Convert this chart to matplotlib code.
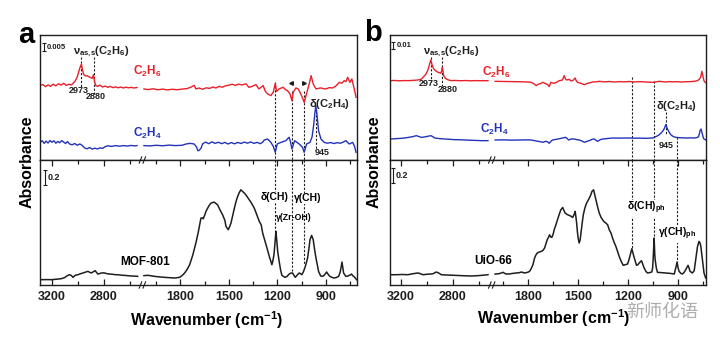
import numpy as np
import matplotlib
matplotlib.use('Agg')
import matplotlib.pyplot as plt
import matplotlib.transforms as mtransforms

plt.rcParams['font.family'] = ['Liberation Sans', 'DejaVu Sans']
plt.rcParams['font.weight'] = 'bold'
plt.rcParams['mathtext.fontset'] = 'custom'
plt.rcParams['mathtext.rm'] = 'Liberation Sans:bold'
plt.rcParams['mathtext.it'] = 'Liberation Sans:bold'
plt.rcParams['mathtext.bf'] = 'Liberation Sans:bold'
plt.rcParams['mathtext.default'] = 'rm'

# ---------------- data (wavenumber cm-1, difference absorbance in 1e-3) ----------------
# panel a : MOF-801
a_c2h6_wn = [3292, 3270, 3250, 3230, 3210, 3190, 3170, 3150, 3130, 3110, 3090, 3070, 3050, 3038,
             3020, 3005, 2995, 2985, 2973, 2965, 2955, 2940, 2928, 2915, 2900, 2890, 2880, 2872,
             2862, 2850, 2830, 2810, 2790, 2770, 2750, 2730, 2710, 2690, 2670, 2650, 2630, 2610,
             2590, 2570, 2545,
             2026, 2000, 1970, 1940, 1910, 1880, 1850, 1820, 1790, 1760, 1735, 1715, 1704, 1684,
             1663, 1640, 1620, 1600, 1580, 1560, 1540, 1520, 1497, 1480, 1460, 1440, 1420, 1394,
             1376, 1355, 1333, 1314, 1300, 1288, 1275, 1260, 1240, 1225, 1213, 1205, 1189, 1175,
             1164, 1150, 1137, 1122, 1110, 1102, 1085, 1072, 1060, 1045, 1034, 1017, 1003, 991,
             978, 961, 945, 930, 915, 899, 880, 858, 840, 817, 800, 786, 775, 765, 751, 739, 724, 713]
a_c2h6 = [46.5, 47.2, 45.8, 46.9, 46.0, 47.4, 46.3, 47.6, 46.8, 47.9, 46.6, 47.3, 46.9, 47.9,
          49.5, 52.0, 54.8, 57.5, 60.0, 56.3, 53.3, 52.5, 52.7, 52.0, 51.4, 51.0, 53.3, 49.0,
          46.5, 46.0, 46.8, 45.6, 46.2, 45.4, 46.0, 45.2, 45.7, 45.1, 45.6, 45.0, 45.5, 45.1,
          45.4, 45.0, 45.3,
          44.4, 44.0, 44.5, 43.9, 44.3, 43.8, 44.2, 43.9, 44.3, 44.6, 45.5, 46.6, 44.4, 45.0,
          44.2, 45.1, 44.7, 45.6, 45.0, 46.0, 45.5, 46.4, 46.8, 47.3, 46.6, 47.4, 46.9, 47.6,
          45.4, 46.0, 47.1, 44.4, 45.5, 46.5, 43.0, 41.3, 40.2, 42.5, 47.9, 42.9, 44.4, 45.0,
          45.4, 44.0, 43.3, 41.3, 37.1, 42.3, 45.0, 44.5, 42.3, 39.0, 36.0, 42.3, 47.5, 52.7,
          47.5, 44.4, 44.8, 45.0, 44.6, 44.4, 45.2, 45.0, 46.0, 48.5, 48.0, 49.6, 49.0, 51.7,
          48.5, 50.6, 44.4, 39.2]

a_c2h4_wn = [3292, 3275, 3260, 3245, 3230, 3215, 3200, 3185, 3170, 3155, 3140, 3125, 3110, 3095,
             3080, 3064, 3045, 3025, 3005, 2985, 2974, 2960, 2948, 2930, 2910, 2890, 2870, 2850,
             2830, 2810, 2794, 2770, 2740, 2710, 2680, 2650, 2620, 2590, 2560, 2545,
             2026, 1990, 1950, 1910, 1870, 1830, 1790, 1765, 1740, 1715, 1700, 1692, 1684, 1672,
             1663, 1645, 1625, 1605, 1585, 1565, 1545, 1525, 1505, 1485, 1465, 1445, 1425, 1405,
             1385, 1365, 1345, 1325, 1305, 1290, 1281, 1260, 1240, 1225, 1213, 1201, 1178, 1147,
             1127, 1118, 1110, 1093, 1065, 1044, 1034, 1019, 998, 985, 975, 967, 962, 955, 945,
             930, 910, 890, 870, 850, 830, 810, 796, 776, 755, 734, 722, 713]
a_c2h4 = [11.0, 12.0, 10.4, 11.8, 10.6, 12.2, 11.1, 12.0, 10.5, 11.6, 10.8, 12.1, 11.2, 10.3,
          11.5, 10.0, 9.5, 10.3, 9.2, 10.0, 9.5, 8.5, 7.5, 7.0, 7.8, 6.8, 7.4, 6.9,
          7.6, 7.2, 8.2, 8.9, 8.5, 9.0, 8.6, 9.0, 8.7, 9.1, 8.8, 9.0,
          9.0, 8.8, 9.2, 8.9, 9.3, 9.0, 9.2, 10.0, 10.4, 10.0, 8.0, 5.8, 6.0, 7.5,
          10.0, 11.2, 10.2, 11.3, 10.4, 11.1, 10.2, 11.0, 10.0, 10.9, 10.1, 11.0, 10.3, 11.2,
          10.5, 11.3, 10.4, 11.0, 10.2, 11.2, 12.5, 13.1, 11.0, 8.5, 4.8, 10.0, 11.0, 12.1,
          14.2, 11.0, 6.9, 12.1, 10.0, 7.9, 4.8, 10.0, 11.0, 14.5, 22.0, 30.0, 34.0, 28.8, 18.3,
          13.1, 11.0, 10.5, 10.9, 10.3, 10.8, 10.5, 11.0, 12.1, 10.0, 11.0, 8.5, 4.8]

mof_wn = [3292, 3282, 3240, 3205, 3160, 3128, 3100, 3090, 3075, 3064, 3050, 3038, 3020, 3000,
          2980, 2961, 2940, 2923, 2910, 2897, 2880, 2867, 2856, 2846, 2830, 2810, 2794, 2775,
          2756, 2730, 2710, 2692, 2660, 2640, 2615, 2590, 2560, 2540,
          2026, 2001, 1980, 1960, 1930, 1898, 1870, 1836, 1805, 1790, 1774, 1758, 1743, 1723,
          1702, 1690, 1681, 1673, 1665, 1659, 1650, 1642, 1625, 1611, 1591, 1570, 1555, 1539,
          1525, 1518, 1504, 1495, 1487, 1476, 1466, 1456, 1446, 1436, 1426, 1415, 1405, 1395,
          1385, 1374, 1360, 1343, 1328, 1312, 1300, 1291, 1280, 1270, 1260, 1250, 1241, 1234,
          1227, 1221, 1214, 1209, 1204, 1198, 1190, 1180, 1172, 1160, 1151, 1140, 1127, 1115,
          1106, 1098, 1089, 1078, 1065, 1055, 1048, 1038, 1027, 1020, 1013, 1005, 998, 988,
          978, 970, 961, 952, 945, 932, 920, 908, 895, 885, 875, 860, 848, 835, 821, 811, 805,
          800, 794, 790, 776, 765, 755, 748, 741, 734, 727, 718, 710]
mof_abs = [0.071, 0.071, 0.072, 0.071, 0.078, 0.084, 0.100, 0.115, 0.130, 0.137, 0.125, 0.102,
           0.130, 0.137, 0.150, 0.160, 0.172, 0.182, 0.170, 0.160, 0.178, 0.191, 0.165, 0.146,
           0.155, 0.162, 0.160, 0.150, 0.146, 0.142, 0.137, 0.137, 0.130, 0.128, 0.124, 0.120,
           0.118, 0.115,
           0.125, 0.129, 0.122, 0.115, 0.108, 0.102, 0.098, 0.093, 0.102, 0.125, 0.160, 0.210,
           0.270, 0.403, 0.581, 0.700, 0.802, 0.891, 0.895, 0.882, 0.930, 0.980, 1.050, 1.091,
           1.104, 1.068, 1.000, 0.935, 0.860, 0.780, 0.736, 0.780, 0.825, 0.930, 1.024, 1.110,
           1.179, 1.230, 1.268, 1.246, 1.225, 1.201, 1.170, 1.135, 1.090, 1.024, 0.940, 0.847,
           0.800, 0.692, 0.610, 0.536, 0.460, 0.381, 0.320, 0.270, 0.330, 0.403, 0.580, 0.714,
           0.600, 0.448, 0.330, 0.200, 0.129, 0.110, 0.102, 0.115, 0.146, 0.160, 0.160, 0.130,
           0.102, 0.130, 0.160, 0.150, 0.137, 0.180, 0.248, 0.300, 0.359, 0.480, 0.603, 0.661,
           0.603, 0.480, 0.359, 0.260, 0.182, 0.120, 0.115, 0.135, 0.173, 0.140, 0.115, 0.100,
           0.093, 0.100, 0.115, 0.173, 0.240, 0.306, 0.220, 0.160, 0.115, 0.118, 0.129, 0.135,
           0.146, 0.125, 0.115, 0.095, 0.071]

# panel b : UiO-66
b_c2h6_wn = [3285, 3250, 3210, 3170, 3146, 3110, 3069, 3045, 3031, 3015, 3005, 2995, 2987, 2978,
             2971, 2965, 2959, 2950, 2940, 2927, 2915, 2904, 2894, 2886, 2882, 2876, 2871, 2860,
             2851, 2830, 2813, 2780, 2740, 2700, 2660, 2620, 2580, 2530,
             1997, 1950, 1900, 1850, 1800, 1780, 1765, 1750, 1740, 1730, 1710, 1690, 1680, 1672,
             1662, 1652, 1642, 1625, 1612, 1592, 1582, 1575, 1567, 1552, 1540, 1531, 1516, 1508,
             1501, 1481, 1461, 1441, 1425, 1411, 1390, 1371, 1340, 1310, 1280, 1250, 1220, 1190,
             1160, 1130, 1100, 1075, 1050, 1030, 1011, 990, 971, 950, 930, 900, 880, 851, 820,
             800, 780, 768, 760, 754, 746, 740, 734, 730]
b_c2h6 = [119.0, 119.3, 118.8, 119.2, 119.0, 119.4, 120.0, 121.0, 124.0, 127.0, 130.0, 134.0,
          139.0, 145.0, 150.0, 146.0, 141.5, 137.5, 135.0, 133.0, 131.5, 131.0, 130.0, 134.0,
          139.0, 132.0, 126.5, 123.0, 121.5, 119.8, 119.0, 119.3, 118.9, 119.2, 118.8, 119.1,
          118.9, 119.0,
          118.0, 117.8, 117.6, 117.4, 117.0, 116.5, 114.5, 111.5, 113.5, 114.0, 116.5, 114.0,
          113.0, 110.0, 116.5, 115.5, 115.0, 117.0, 119.0, 120.0, 126.5, 122.0, 120.0, 121.0,
          118.5, 119.0, 123.0, 118.0, 116.5, 115.0, 113.0, 115.0, 116.0, 117.0, 117.3, 118.0,
          117.2, 117.8, 117.0, 117.6, 117.2, 117.8, 117.0, 117.5, 117.2, 116.8, 116.5, 117.2,
          118.0, 117.5, 117.0, 117.6, 117.2, 117.5, 117.0, 117.4, 117.6, 118.0, 119.0, 121.5,
          125.0, 133.0, 124.0, 118.0, 116.5, 116.0]

b_c2h4_wn = [3285, 3240, 3200, 3172, 3140, 3110, 3082, 3060, 3044, 3020, 2995, 2971, 2955, 2940,
             2900, 2860, 2820, 2786, 2740, 2700, 2660, 2620, 2580, 2530,
             1997, 1950, 1900, 1850, 1800, 1780, 1760, 1740, 1725, 1710, 1700, 1690, 1680, 1672,
             1662, 1652, 1630, 1610, 1592, 1572, 1555, 1540, 1522, 1506, 1492, 1475, 1461, 1445,
             1431, 1415, 1401, 1390, 1381, 1365, 1351, 1330, 1291, 1250, 1220, 1191, 1160, 1130,
             1091, 1070, 1050, 1031, 1015, 1001, 990, 981, 975, 971, 966, 961, 951, 941, 925,
             911, 880, 851, 820, 801, 785, 774, 768, 765, 759, 754, 750, 745, 741, 730]
b_c2h4 = [31.5, 32.0, 32.5, 33.0, 34.0, 35.0, 36.5, 35.0, 34.0, 34.5, 35.5, 36.5, 35.0, 33.0,
          32.0, 31.5, 31.0, 30.5, 30.3, 30.0, 29.6, 29.3, 29.0, 29.0,
          30.0, 30.2, 29.8, 30.0, 30.2, 30.0, 29.0, 28.0, 27.5, 26.5, 27.5, 28.0, 27.0, 25.0,
          28.0, 30.0, 31.0, 32.0, 33.0, 34.0, 30.0, 31.5, 31.5, 30.5, 30.0, 28.5, 26.5, 28.0,
          29.0, 31.0, 31.5, 29.5, 28.0, 30.5, 31.5, 32.0, 33.0, 32.8, 33.0, 33.0, 32.7, 32.9,
          32.5, 32.8, 33.0, 35.0, 37.0, 40.0, 43.0, 46.5, 50.0, 53.0, 50.0, 46.5, 42.0, 38.0,
          35.0, 34.0, 33.3, 33.0, 33.2, 33.0, 33.5, 35.0, 40.0, 44.0, 46.5, 42.0, 38.0, 33.5,
          31.5, 30.0]

uio_wn = [3285, 3240, 3190, 3146, 3110, 3069, 3050, 3031, 3000, 2970, 2954, 2940, 2928, 2910,
          2890, 2850, 2786, 2740, 2700, 2658, 2610, 2570, 2530,
          1997, 1975, 1960, 1950, 1940, 1930, 1910, 1890, 1870, 1850, 1840, 1820, 1800, 1790,
          1780, 1770, 1760, 1752, 1744, 1730, 1720, 1710, 1700, 1690, 1684, 1675, 1670, 1663,
          1656, 1648, 1642, 1632, 1622, 1612, 1602, 1591, 1583, 1576, 1565, 1552, 1540, 1531,
          1522, 1516, 1511, 1507, 1502, 1498, 1492, 1486, 1481, 1474, 1467, 1457, 1447, 1431,
          1422, 1415, 1405, 1398, 1391, 1381, 1371, 1360, 1351, 1341, 1331, 1320, 1311, 1300,
          1291, 1280, 1271, 1260, 1251, 1240, 1227, 1214, 1201, 1193, 1187, 1175, 1168, 1163,
          1155, 1147, 1139, 1131, 1117, 1110, 1101, 1090, 1081, 1068, 1055, 1050, 1047, 1041,
          1037, 1035, 1028, 1021, 1000, 971, 945, 920, 911, 903, 897, 891, 880, 871, 860, 851,
          837, 830, 825, 811, 800, 795, 787, 780, 771, 765, 760, 755, 750, 745, 741, 731]
uio_abs = [0.137, 0.137, 0.140, 0.137, 0.150, 0.160, 0.150, 0.137, 0.143, 0.146, 0.150, 0.162,
           0.173, 0.160, 0.137, 0.133, 0.129, 0.125, 0.122, 0.120, 0.124, 0.130, 0.137,
           0.146, 0.150, 0.160, 0.169, 0.155, 0.146, 0.148, 0.155, 0.160, 0.165, 0.173, 0.160,
           0.170, 0.182, 0.220, 0.270, 0.359, 0.400, 0.426, 0.440, 0.448, 0.460, 0.492, 0.560,
           0.603, 0.640, 0.669, 0.640, 0.634, 0.680, 0.736, 0.800, 0.869, 0.940, 1.002, 1.033,
           0.990, 0.958, 0.940, 0.927, 0.915, 0.900, 0.940, 0.980, 0.900, 0.825, 0.700, 0.625,
           0.559, 0.600, 0.692, 0.820, 0.935, 1.030, 1.091, 1.157, 1.200, 1.246, 1.268, 1.200,
           1.135, 1.040, 0.958, 0.900, 0.869, 0.840, 0.825, 0.800, 0.736, 0.690, 0.625, 0.560,
           0.514, 0.440, 0.381, 0.320, 0.262, 0.270, 0.279, 0.330, 0.381, 0.483, 0.420, 0.381,
           0.320, 0.262, 0.270, 0.293, 0.324, 0.280, 0.226, 0.180, 0.160, 0.165, 0.173, 0.230,
           0.340, 0.625, 0.400, 0.340, 0.230, 0.169, 0.165, 0.160, 0.155, 0.146, 0.226, 0.306,
           0.230, 0.182, 0.155, 0.146, 0.170, 0.204, 0.262, 0.220, 0.182, 0.160, 0.190, 0.270,
           0.400, 0.514, 0.581, 0.560, 0.514, 0.420, 0.315, 0.230, 0.160, 0.093]

major_ticks = [3200, 2800, 1800, 1500, 1200, 900]
minor_ticks = [3000, 2600, 1950, 1650, 1350, 1050, 750]

RED = '#e8202a'
BLUE = '#2233b8'
BLACK = '#1e1e1e'
W, H = 720, 339


def broken_scale(ref_l, px_l, k_l, ref_r, px_r, k_r, gap_lo, gap_hi):
    # piecewise linear wavenumber -> pixel map, two segments joined across the break
    wn = np.array([0.0, gap_lo, gap_hi, 5000.0])
    px = np.array([px_r + ref_r / k_r, px_r + (ref_r - gap_lo) / k_r,
                   px_l + (ref_l - gap_hi) / k_l, px_l + (ref_l - 5000.0) / k_l])
    fwd = lambda w: np.interp(w, wn, -px)
    inv = lambda v: np.interp(v, -px, wn)
    return fwd, inv


def plot_broken(ax, wn, y, color, lw=1.0):
    wn = np.asarray(wn, float)
    y = np.asarray(y, float)
    hi = wn > 2300
    ax.plot(wn[hi], y[hi], color=color, lw=lw)
    ax.plot(wn[~hi], y[~hi], color=color, lw=lw)


def slashes(ax, xc, yc):
    for dx in (-0.008, 0.004):
        ax.plot([xc + dx - 0.004, xc + dx + 0.004], [yc - 0.025, yc + 0.025],
                transform=ax.transAxes, color=BLACK, lw=0.8, clip_on=False, zorder=5)


def scalebar(ax, x, y0, y1, label, xl, fs):
    ax.errorbar([x], [(y0 + y1) / 2], yerr=[(y1 - y0) / 2], fmt='none', ecolor=BLACK,
                elinewidth=0.8, capsize=1.5, capthick=0.8)
    ax.text(xl, (y0 + y1) / 2, label, fontsize=fs, va='center', ha='left', color=BLACK)


def dline(ax, x, y0, y1):
    ax.plot([x, x], [y0, y1], color=BLACK, lw=0.8, ls=(0, (2, 1.5)), zorder=1)


fig = plt.figure(figsize=(7.2, 3.39), dpi=100)


def make_panel(left_px, right_px, scale, xlim, top_ylim, bot_ylim, brk):
    fwd, inv = scale
    l = left_px / W
    w = (right_px - left_px) / W
    top = fig.add_axes([l, 1 - 160 / H, w, 125 / H])
    bot = fig.add_axes([l, 1 - 285 / H, w, 125 / H])
    for ax, yl in ((top, top_ylim), (bot, bot_ylim)):
        ax.set_xscale('function', functions=(fwd, inv))
        ax.set_xlim(*xlim)
        ax.set_ylim(*yl)
        ax.set_yticks([])
        for s in ax.spines.values():
            s.set_linewidth(1.0)
            s.set_color(BLACK)
    top.set_xticks([])
    top.set_xticks([], minor=True)
    bot.set_xticks(major_ticks)
    bot.set_xticks(minor_ticks, minor=True)
    bot.set_xticklabels([str(t) for t in major_ticks])
    bot.tick_params(axis='x', which='both', direction='in', top=True, width=0.9,
                    labelsize=9, pad=4, colors=BLACK)
    bot.tick_params(axis='x', which='major', length=4)
    bot.tick_params(axis='x', which='minor', length=3)
    slashes(bot, brk, 0.0)
    slashes(bot, brk, 1.0)
    return top, bot


# ---------------- panel a ----------------
sa = broken_scale(3200, 52, 7.7, 1800, 180.5, 6.19, 2030, 2540)
ta, ba = make_panel(40, 357, sa, (3292, 707), (0, 78.1), (0, 1.665), 0.325)
plot_broken(ta, a_c2h6_wn, a_c2h6, RED)
plot_broken(ta, a_c2h4_wn, a_c2h4, BLUE)
plot_broken(ba, mof_wn, mof_abs, BLACK, lw=1.1)

bt = mtransforms.blended_transform_factory(ta.transAxes, ta.transData)
ta.text(0.339, 55.6, 'C$_2$H$_6$', color=RED, fontsize=8.5, ha='center', va='center', transform=bt)
ta.text(0.339, 16.3, 'C$_2$H$_4$', color=BLUE, fontsize=8.5, ha='center', va='center', transform=bt)
scalebar(ta, 3262, 68.1, 73.1, '0.005', 3238, 5.5)
ta.text(3040, 68.0, 'ν$_{as{,}s}$(C$_2$H$_6$)', fontsize=8, ha='left', va='center', color=BLACK)
dline(ta, 2973, 64.2, 45.6)
dline(ta, 2880, 64.2, 41.3)
ta.text(2990, 43.5, '2973', fontsize=6.5, ha='center', va='center', color=BLACK)
ta.text(2861, 39.4, '2880', fontsize=6.5, ha='center', va='center', color=BLACK)
for x, y0 in ((1213, 48.7), (1110, 43.1), (1034, 43.1)):
    dline(ta, x, y0, 0)
ta.plot([1118], [48.1], marker='<', ms=2.6, color=BLACK, ls='none')
ta.plot([1036], [48.1], marker='>', ms=2.6, color=BLACK, ls='none')
ta.text(1005, 35.0, 'δ(C$_2$H$_4$)', fontsize=8, ha='left', va='center', color=BLACK)
dline(ta, 963, 30.8, 6.9)
ta.text(921, 4.7, '945', fontsize=6.5, ha='center', va='center', color=BLACK)

for x, y1 in ((1213, 0.718), (1110, 0.16), (1034, 0.266)):
    dline(ba, x, 1.665, y1)
bb = mtransforms.blended_transform_factory(ba.transAxes, ba.transData)
scalebar(ba, 3254, 1.33, 1.53, '0.2', 3231, 6.5)
ba.text(0.333, 0.306, 'MOF-801', fontsize=8.5, ha='center', va='center', transform=bb)
ba.text(1218, 1.17, 'δ(CH)', fontsize=7.5, ha='center', va='center',
        bbox=dict(fc='white', ec='none', pad=0.3))
ba.text(1011, 1.157, 'γ(CH)', fontsize=7.5, ha='center', va='center',
        bbox=dict(fc='white', ec='none', pad=0.3))
ba.text(1100, 0.904, 'γ(Zr-OH)', fontsize=6.3, ha='center', va='center')

# ---------------- panel b ----------------
sb = broken_scale(3200, 401, 7.7, 1800, 528, 6.01, 2000, 2515)
tb, bbx = make_panel(390, 706, sb, (3285, 729), (0, 187.5), (0, 1.665), 0.324)
plot_broken(tb, b_c2h6_wn, b_c2h6, RED)
plot_broken(tb, b_c2h4_wn, b_c2h4, BLUE)
plot_broken(bbx, uio_wn, uio_abs, BLACK, lw=1.1)

bt2 = mtransforms.blended_transform_factory(tb.transAxes, tb.transData)
tb.text(0.337, 132, 'C$_2$H$_6$', color=RED, fontsize=8.5, ha='center', va='center', transform=bt2)
tb.text(0.331, 46.5, 'C$_2$H$_4$', color=BLUE, fontsize=8.5, ha='center', va='center', transform=bt2)
scalebar(tb, 3262, 166.5, 177.0, '0.01', 3231, 5.5)
tb.text(3031, 162.7, 'ν$_{as{,}s}$(C$_2$H$_6$)', fontsize=8, ha='left', va='center', color=BLACK)
dline(tb, 2971, 155, 117)
dline(tb, 2882, 155, 111.5)
tb.text(2984, 114, '2973', fontsize=6.5, ha='center', va='center', color=BLACK)
tb.text(2838, 106.5, '2880', fontsize=6.5, ha='center', va='center', color=BLACK)
for x, y0 in ((1175, 124.5), (1041, 119.0), (901, 34.5)):
    dline(tb, x, y0, 0)
tb.text(1031, 81, 'δ(C$_2$H$_4$)', fontsize=8, ha='left', va='center', color=BLACK)
dline(tb, 971, 72, 38)
tb.text(969, 21.7, '945', fontsize=6.5, ha='center', va='center', color=BLACK)

for x, y1 in ((1175, 0.483), (1041, 0.625), (901, 0.306)):
    dline(bbx, x, 1.665, y1)
bb2 = mtransforms.blended_transform_factory(bbx.transAxes, bbx.transData)
scalebar(bbx, 3262, 1.357, 1.556, '0.2', 3239, 6.5)
bbx.text(0.326, 0.326, 'UiO-66', fontsize=8.5, ha='center', va='center', transform=bb2)
bbx.text(1085, 1.024, 'δ(CH)$_{ph}$', fontsize=7.5, ha='center', va='center',
         bbox=dict(fc='white', ec='none', pad=0.3))
bbx.text(903, 0.678, 'γ(CH)$_{ph}$', fontsize=7.5, ha='center', va='center',
         bbox=dict(fc='white', ec='none', pad=0.3))

# ---------------- figure labels ----------------
fig.text(26 / W, 1 - 35 / H, 'a', fontsize=21, ha='center', va='center')
fig.text(373 / W, 1 - 33 / H, 'b', fontsize=21, ha='center', va='center')
for xp in (27, 374):
    fig.text(xp / W, 1 - 162 / H, 'Absorbance', fontsize=11.5, rotation=90,
             ha='center', va='center')
fig.text(207 / W, 1 - 320 / H, 'Wavenumber (cm$^{-1}$)', fontsize=11.5, ha='center', va='center')
fig.text(554 / W, 1 - 318 / H, 'Wavenumber (cm$^{-1}$)', fontsize=11.5, ha='center', va='center')
fig.text(662 / W, 1 - 312 / H, '新师化语', fontsize=13, color='#9a9a9a', alpha=0.8,
         family=['Noto Sans CJK SC'], fontweight='normal', ha='center', va='center')

fig.savefig('out.png', dpi=100)
